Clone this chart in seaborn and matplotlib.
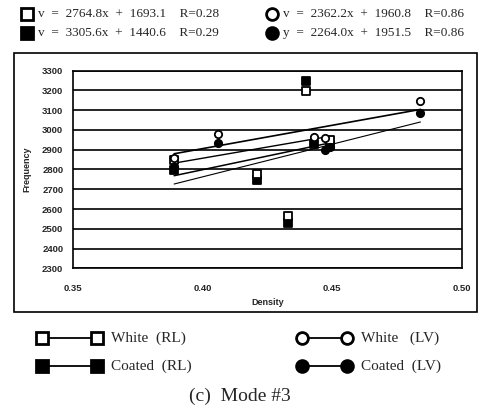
import numpy as np
import pandas as pd
import matplotlib
matplotlib.use("Agg")
import matplotlib.pyplot as plt
from matplotlib.lines import Line2D
from matplotlib.patches import Rectangle
import seaborn as sns

# Measured data: resonance frequency of mode #3 against density
white_rl_x = [0.389, 0.421, 0.433, 0.440, 0.449]
white_rl_y = [2850, 2778, 2563, 3195, 2948]
coated_rl_x = [0.389, 0.421, 0.433, 0.440, 0.443, 0.449]
coated_rl_y = [2795, 2745, 2528, 3248, 2930, 2925]
white_lv_x = [0.389, 0.406, 0.443, 0.447, 0.484]
white_lv_y = [2860, 2978, 2962, 2957, 3145]
coated_lv_x = [0.389, 0.406, 0.447, 0.449, 0.484]
coated_lv_y = [2815, 2932, 2900, 2912, 3085]

# Linear fits (slope, intercept, R) and the density span of each fit line
fit_labels = ["White (RL)", "Coated (RL)", "White (LV)", "Coated (LV)"]
fit_slope = [2764.8, 3305.6, 2362.2, 2264.0]
fit_icept = [1693.1, 1440.6, 1960.8, 1951.5]
fit_r = [0.28, 0.29, 0.86, 0.86]
fit_x0 = [0.389, 0.389, 0.389, 0.389]
fit_x1 = [0.449, 0.484, 0.484, 0.449]
fit_lw = [1.1, 0.8, 1.2, 1.0]

x_ticks = [0.35, 0.40, 0.45, 0.50]
x_ticklabels = ["0.35", "0.40", "0.45", "0.50"]
y_ticks = list(range(2300, 3301, 100))

sns.set_theme(style="white")
plt.rcParams["font.family"] = ["Liberation Sans", "DejaVu Sans"]

fig = plt.figure(figsize=(4.79, 4.12), dpi=100)
ax = fig.add_axes([0.1524, 0.3488, 0.812, 0.4796])

frames = []
for name, xs, ys in [("White (RL)", white_rl_x, white_rl_y),
                     ("Coated (RL)", coated_rl_x, coated_rl_y),
                     ("White (LV)", white_lv_x, white_lv_y),
                     ("Coated (LV)", coated_lv_x, coated_lv_y)]:
    frames.append(pd.DataFrame({"Density": xs, "Frequency": ys, "series": name}))
points = pd.concat(frames, ignore_index=True)

# Fit lines from the stated equations
for lab, m, b, x0, x1, lw in zip(fit_labels, fit_slope, fit_icept, fit_x0, fit_x1, fit_lw):
    xs = np.array([x0, x1])
    line_df = pd.DataFrame({"Density": xs, "Frequency": m * xs + b})
    sns.lineplot(data=line_df, x="Density", y="Frequency", ax=ax,
                 color="black", lw=lw, zorder=3)

styles = {
    "White (RL)": dict(marker="s", facecolor="white"),
    "Coated (RL)": dict(marker="s", facecolor="black"),
    "White (LV)": dict(marker="o", facecolor="white"),
    "Coated (LV)": dict(marker="o", facecolor="black"),
}
for name in ["Coated (RL)", "White (RL)", "Coated (LV)", "White (LV)"]:
    sub = points[points.series == name]
    st = styles[name]
    sns.scatterplot(data=sub, x="Density", y="Frequency", ax=ax,
                    marker=st["marker"], s=28, color=st["facecolor"],
                    edgecolor="black", linewidth=1.3, zorder=4, legend=False)

ax.set_xlim(0.35, 0.50)
ax.set_ylim(2300, 3300)
ax.set_xticks(x_ticks)
ax.set_xticklabels(x_ticklabels)
ax.set_yticks(y_ticks)
ax.yaxis.grid(True, color="black", lw=1.2)
ax.xaxis.grid(False)
ax.set_axisbelow(True)
for sp in ax.spines.values():
    sp.set_visible(True)
    sp.set_color("black")
    sp.set_linewidth(1.2)
ax.tick_params(axis="x", direction="in", length=2, width=0.8, color="black",
               labelsize=6.8, pad=11)
ax.tick_params(axis="y", length=0, labelsize=6.8, pad=7)
for t in ax.get_xticklabels() + ax.get_yticklabels():
    t.set_fontweight("bold")
ax.set_xlabel("Density", fontsize=6.5, fontweight="bold", labelpad=4)
ax.set_ylabel("Frequency", fontsize=6.5, fontweight="bold", labelpad=8)

# Outer frame around the chart panel
fig.patches.append(Rectangle((14 / 479, 1 - 312 / 412), 463 / 479, 259 / 412,
                             transform=fig.transFigure, fill=False,
                             edgecolor="black", lw=1.2))

# Fit equations above the panel
serif = ["Liberation Serif", "DejaVu Serif"]
eq_rows = [(27, 14, "s", "white", 0), (27, 33, "s", "black", 1),
           (272, 14, "o", "white", 2), (272, 33, "o", "black", 3)]
for px, py, mk, fc, i in eq_rows:
    fig.add_artist(Line2D([px / 479], [1 - py / 412], transform=fig.transFigure,
                          marker=mk, ms=8 if mk == "s" else 8.5,
                          mfc=fc, mec="black", mew=2, ls="none"))
    var = "v" if i < 3 else "y"
    txt = f"{var}  =  {fit_slope[i]:.1f}x  +  {fit_icept[i]:.1f}    R={fit_r[i]:.2f}"
    fig.text((px + 11) / 479, 1 - py / 412, txt, fontsize=9.5, family=serif,
             va="center", ha="left")

# Series key below the panel
key_rows = [(42, 97, 338, "s", "white", "White  (RL)"),
            (42, 97, 366, "s", "black", "Coated  (RL)"),
            (302, 347, 338, "o", "white", "White   (LV)"),
            (302, 347, 366, "o", "black", "Coated  (LV)")]
for x0, x1, py, mk, fc, lab in key_rows:
    y = 1 - py / 412
    fig.add_artist(Line2D([x0 / 479, x1 / 479], [y, y], transform=fig.transFigure,
                          color="black", lw=1.3, marker=mk, ms=8.5,
                          mfc=fc, mec="black", mew=2))
    fig.text((x1 + 14) / 479, y, lab, fontsize=11, family=serif,
             va="center", ha="left")

fig.text(240 / 479, 1 - 396 / 412, "(c)  Mode #3", fontsize=14, family=serif,
         va="center", ha="center")

fig.savefig("out.png", dpi=100)
